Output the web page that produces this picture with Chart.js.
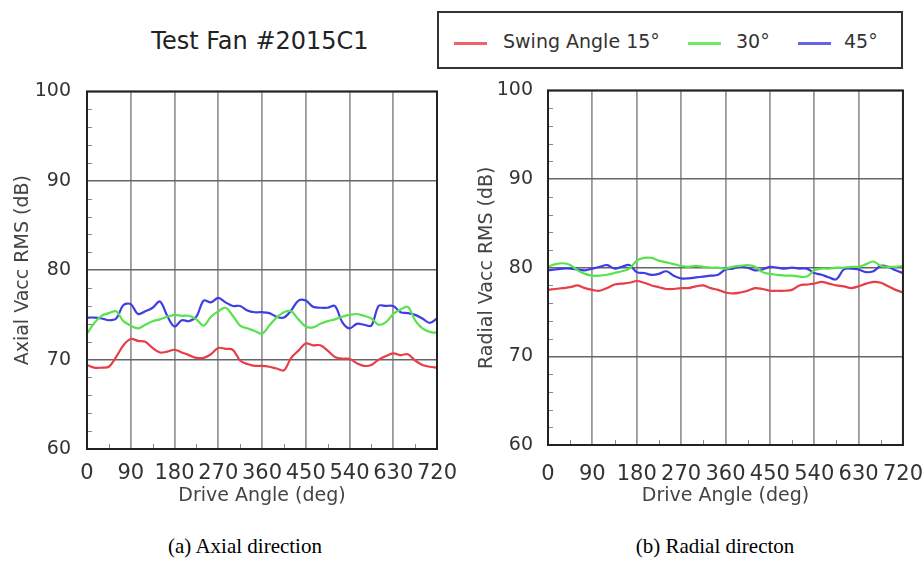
<!DOCTYPE html>
<html>
<head>
<meta charset="utf-8">
<script src="https://cdn.jsdelivr.net/npm/chart.js@4"></script>
<style>
    body { margin: 0; width: 923px; height: 562px; background: #fff; position: relative; overflow: hidden; font-family: 'DejaVu Sans', sans-serif; color: #333; }
    .box { position: absolute; }
    #title { left: 60px; top: 27px; width: 400px; text-align: center; font-size: 24px; color: #222; }
    #legend { left: 437px; top: 11px; width: 466px; height: 58px; border: 2px solid #333; box-sizing: border-box; }
    #legend .sw { position: absolute; top: 29px; width: 33px; height: 3px; }
    #legend .lb { position: absolute; top: 17px; font-size: 19px; color: #333; }
    .caption { top: 534px; width: 300px; text-align: center; font-family: 'Liberation Serif', 'Times New Roman', serif; font-size: 21px; color: #000; }
    canvas { position: absolute; }
</style>
</head>
<body>
<div class="box" id="title">Test Fan #2015C1</div>
<div class="box" id="legend"></div>
<canvas id="chart-axial" style="left:0px; top:64px;" width="460" height="446"></canvas>
<canvas id="chart-radial" style="left:460px; top:64px;" width="463" height="446"></canvas>
<div class="box caption" style="left:95px;">(a) Axial direction</div>
<div class="box caption" style="left:565px;">(b) Radial directon</div>
<script>
// Drive angle samples (deg)
const driveAngles = [0, 15, 30, 45, 60, 75, 90, 105, 120, 135, 150, 165, 180, 195, 210, 225, 240,
    255, 270, 285, 300, 315, 330, 345, 360, 375, 390, 405, 420, 435, 450, 465, 480,
    495, 510, 525, 540, 555, 570, 585, 600, 615, 630, 645, 660, 675, 690, 705, 720];

const seriesNames = ['Swing Angle 15°', '30°', '45°'];
const seriesColors = ['rgb(232,62,72)', 'rgb(88,226,78)', 'rgb(62,62,228)'];
const legendColors = ['rgb(240,100,105)', 'rgb(110,235,100)', 'rgb(100,100,235)'];

// Axial Vacc RMS (dB)
const axial15 = [69.4, 69.1, 69.1, 69.2, 70.3, 71.6, 72.3, 72.1, 72.0, 71.3, 70.8, 70.9, 71.1, 70.8, 70.5, 70.2, 70.2,
    70.6, 71.3, 71.2, 71.1, 69.9, 69.5, 69.3, 69.3, 69.2, 69.0, 68.8, 70.2, 71.0, 71.8, 71.6, 71.6,
    71.0, 70.3, 70.1, 70.1, 69.6, 69.3, 69.4, 70.0, 70.4, 70.7, 70.5, 70.6, 69.9, 69.4, 69.2, 69.1];
const axial30 = [72.9, 74.1, 74.9, 75.2, 75.4, 74.3, 73.8, 73.5, 73.9, 74.3, 74.5, 74.8, 75.0, 74.9, 74.9, 74.5, 73.8,
    74.8, 75.4, 75.8, 74.9, 73.8, 73.5, 73.2, 72.9, 73.8, 74.7, 75.3, 75.4, 74.5, 73.7, 73.6, 74.0,
    74.3, 74.5, 74.8, 75.0, 75.1, 74.9, 74.6, 73.9, 74.2, 75.1, 75.6, 75.9, 74.4, 73.5, 73.1, 73.0];
const axial45 = [74.7, 74.7, 74.6, 74.4, 74.6, 76.1, 76.2, 75.1, 75.4, 75.8, 76.5, 74.9, 73.7, 74.4, 74.3, 74.8, 76.6,
    76.4, 76.9, 76.4, 76.0, 76.0, 75.5, 75.3, 75.3, 75.2, 74.8, 74.7, 75.5, 76.6, 76.6, 75.9, 75.8,
    75.8, 76.0, 74.2, 73.5, 74.0, 73.9, 73.8, 76.0, 76.0, 76.0, 75.3, 75.2, 75.0, 74.6, 74.1, 74.6];

// Radial Vacc RMS (dB)
const radial15 = [77.5, 77.6, 77.7, 77.8, 78.0, 77.7, 77.5, 77.4, 77.7, 78.1, 78.2, 78.3, 78.5, 78.3, 78.0, 77.8, 77.6,
    77.6, 77.7, 77.7, 77.9, 78.0, 77.7, 77.5, 77.2, 77.1, 77.2, 77.4, 77.7, 77.6, 77.4, 77.4, 77.4,
    77.5, 78.0, 78.1, 78.2, 78.4, 78.2, 78.0, 77.9, 77.7, 77.9, 78.2, 78.4, 78.3, 77.9, 77.5, 77.2];
const radial30 = [80.1, 80.4, 80.5, 80.3, 79.7, 79.3, 79.1, 79.1, 79.2, 79.4, 79.6, 79.9, 80.8, 81.1, 81.1, 80.8, 80.6,
    80.4, 80.2, 80.1, 80.2, 80.1, 80.0, 80.0, 79.9, 80.1, 80.2, 80.3, 80.1, 79.5, 79.3, 79.2, 79.1,
    79.1, 79.0, 79.0, 79.7, 79.9, 79.9, 80.0, 80.0, 80.1, 80.1, 80.4, 80.7, 80.2, 80.1, 80.1, 80.2];
const radial45 = [79.7, 79.8, 79.9, 79.9, 79.8, 79.7, 79.9, 80.1, 80.3, 79.9, 80.1, 80.3, 79.5, 79.4, 79.2, 79.3, 79.6,
    79.1, 78.8, 78.8, 78.9, 79.0, 79.1, 79.2, 79.8, 79.9, 80.1, 80.0, 79.7, 79.8, 80.1, 80.0, 79.9,
    80.0, 79.9, 79.9, 79.4, 79.2, 78.9, 78.7, 79.8, 79.9, 79.8, 79.5, 79.6, 80.2, 80.1, 79.7, 79.4];

// Build the shared legend box
const legendBox = document.getElementById('legend');
const legendPos = [[15, 64], [249, 297], [359, 405]];
seriesNames.forEach((name, i) => {
    const sw = document.createElement('div');
    sw.className = 'sw';
    sw.style.left = legendPos[i][0] + 'px';
    sw.style.background = legendColors[i];
    legendBox.appendChild(sw);
    const lb = document.createElement('div');
    lb.className = 'lb';
    lb.style.left = legendPos[i][1] + 'px';
    lb.textContent = name;
    legendBox.appendChild(lb);
});

// Frame around the plot plus small inner minor ticks
const framePlugin = {
    id: 'frame',
    afterDraw(chart) {
        const { ctx, chartArea: a, scales: { x, y } } = chart;
        ctx.save();
        ctx.strokeStyle = '#888';
        ctx.lineWidth = 1;
        for (let v = 62; v < 100; v += 2) {
            if (v % 10 === 0) continue;
            const py = Math.round(y.getPixelForValue(v)) + 0.5;
            ctx.beginPath();
            ctx.moveTo(a.left, py);
            ctx.lineTo(a.left + 5, py);
            ctx.stroke();
        }
        for (let v = 45; v < 720; v += 90) {
            const px = Math.round(x.getPixelForValue(v)) + 0.5;
            ctx.beginPath();
            ctx.moveTo(px, a.bottom);
            ctx.lineTo(px, a.bottom - 5);
            ctx.stroke();
        }
        ctx.strokeStyle = '#222';
        ctx.lineWidth = 2;
        ctx.strokeRect(a.left, a.top, a.right - a.left, a.bottom - a.top);
        ctx.restore();
    }
};

function makeChart(canvasId, yTitle, values, cfg) {
    return new Chart(document.getElementById(canvasId), {
        type: 'line',
        data: {
            labels: driveAngles,
            datasets: values.map((vals, i) => ({
                label: seriesNames[i],
                data: vals.map((v, k) => ({ x: driveAngles[k], y: v })),
                borderColor: seriesColors[i],
                borderWidth: 2.2,
                pointRadius: 0,
                tension: 0.35,
                fill: false
            }))
        },
        options: {
            responsive: false,
            animation: false,
            layout: { padding: { top: cfg.top, right: cfg.right, left: 0, bottom: 0 } },
            plugins: { legend: { display: false }, tooltip: { enabled: false } },
            scales: {
                x: {
                    type: 'linear', min: 0, max: 720,
                    afterFit: s => { s.height = cfg.xHeight; },
                    ticks: { stepSize: 90, padding: 0, color: '#333', font: { family: 'DejaVu Sans', size: 21 }, maxRotation: 0, autoSkip: false },
                    grid: { color: '#999', lineWidth: 1.8, drawTicks: true, tickLength: cfg.xTickGap, tickColor: 'rgba(0,0,0,0)' },
                    border: { display: false },
                    title: { display: true, text: 'Drive Angle (deg)', color: '#444', font: { family: 'DejaVu Sans', size: 19 }, padding: { top: 0, bottom: 3 } }
                },
                y: {
                    min: 60, max: 100,
                    afterFit: s => { s.width = cfg.yWidth; },
                    ticks: { stepSize: 10, padding: cfg.yTickPad, color: '#333', font: { family: 'DejaVu Sans', size: 19 } },
                    grid: { color: '#666', lineWidth: 1.6, drawTicks: false },
                    border: { display: false },
                    title: { display: true, text: yTitle, color: '#444', font: { family: 'DejaVu Sans', size: 19 }, padding: { top: cfg.yTitlePad, bottom: 0 } }
                }
            }
        },
        plugins: [framePlugin]
    });
}

makeChart('chart-axial', 'Axial Vacc RMS (dB)', [axial15, axial30, axial45],
    { top: 9, right: 23, xHeight: 61, yWidth: 87, xTickGap: 12, yTickPad: 16, yTitlePad: 12 });
makeChart('chart-radial', 'Radial Vacc RMS (dB)', [radial15, radial30, radial45],
    { top: 9, right: 20, xHeight: 65, yWidth: 88, xTickGap: 17, yTickPad: 15, yTitlePad: 16 });
</script>
</body>
</html>
